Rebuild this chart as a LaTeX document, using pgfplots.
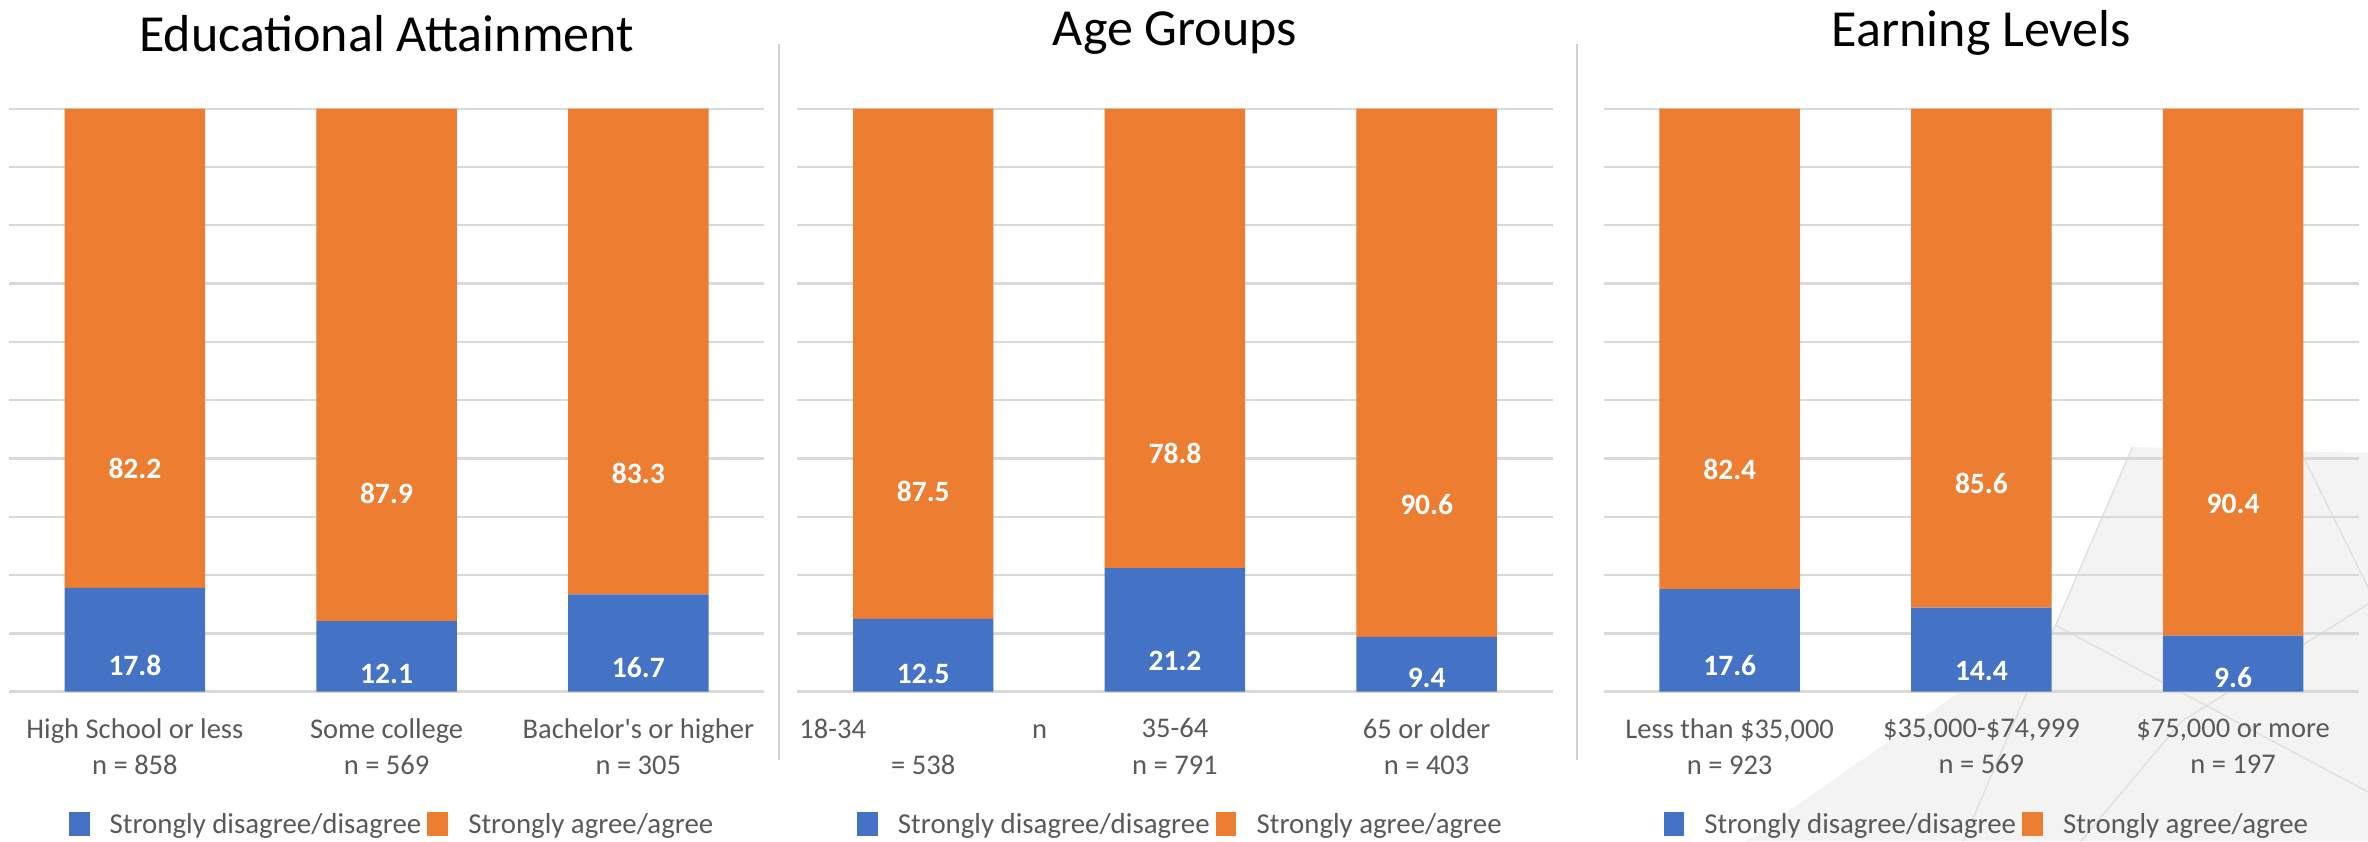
\documentclass[border=0pt]{standalone}
\usepackage{fontspec}
\setmainfont{Carlito}[Ligatures=TeXOff]
\usepackage{pgfplots}
\pgfplotsset{compat=1.18}
\usepackage{pgfplotstable}

\definecolor{cblue}{HTML}{4472C4}
\definecolor{corange}{HTML}{ED7D31}
\definecolor{cgrid}{HTML}{D9D9D9}
\definecolor{ctext}{HTML}{595959}
\definecolor{csep}{HTML}{D0D0D0}
\definecolor{cbg}{HTML}{F3F3F3}
\definecolor{cbgline}{HTML}{E0E0E0}

% segment values: disagree (blue), agree (orange)
\pgfplotstableread{
x dis agr
0 17.8 82.2
1 12.1 87.9
2 16.7 83.3
}\edu
\pgfplotstableread{
x dis agr
0 12.5 87.5
1 21.2 78.8
2 9.4 90.6
}\age
\pgfplotstableread{
x dis agr
0 17.6 82.4
1 14.4 85.6
2 9.6 90.4
}\earn

\pgfplotsset{
  panel/.style={
    scale only axis, width=225pt, height=173.7pt,
    anchor=north west,
    ybar stacked, bar width=41.85pt,
    xmin=-0.5, xmax=2.5, ymin=0, ymax=100,
    xtick={0,1,2}, ytick={0,10,...,100}, yticklabels={},
    ymajorgrids, major grid style={cgrid, line width=0.7pt},
    axis line style={draw=none}, major tick length=0pt,
    xticklabel style={align=center, text=ctext, font=\fontsize{8.5}{10.8}\selectfont},
    xticklabel shift=4.5pt,
    every axis title/.style={at={(0.5,1.1295)}, anchor=center, font=\fontsize{15.5}{18}\selectfont},
    legend style={at={(0.508,-0.2306)}, anchor=center, draw=none, fill=none,
      legend columns=2, font=\fontsize{8.6}{10}\selectfont, text=ctext,
      nodes={inner sep=1pt},
      /tikz/every even column/.append style={column sep=0.8pt},
      /tikz/every odd column/.append style={column sep=5pt}},
    legend image code/.code={\fill[##1] (0pt,-0.3em) rectangle (0.62em,0.42em);},
    nodes near coords={\pgfmathprintnumber[fixed,fixed zerofill,precision=1,assume math mode=true]{\pgfplotspointmeta}},
    every node near coord/.append style={text=white, font=\bfseries\fontsize{8.8}{10}\selectfont},
  },
  seg/.style 2 args={draw=none, fill=#1, point meta=explicit,
    visualization depends on={\thisrow{#2} \as \seg},
    every node near coord/.append style={anchor=center, yshift=-0.43425pt*\seg}},
}

\begin{document}
\begin{tikzpicture}
\path[use as bounding box] (0,0) rectangle (705.6pt,-250.65pt);

% faint faceted backdrop, lower right
\fill[cbg] (635.4pt,-133.2pt) -- (705.6pt,-135pt) -- (705.6pt,-250.65pt)
  -- (520pt,-250.65pt) -- (612.5pt,-186.3pt) -- cycle;
\draw[cbgline, line width=0.4pt] (635.4pt,-133.2pt) -- (612.5pt,-186.3pt) -- (705.6pt,-236pt);
\draw[cbgline, line width=0.4pt] (686pt,-135.5pt) -- (705.6pt,-175pt);
\draw[cbgline, line width=0.4pt] (705.6pt,-180pt) -- (650pt,-215pt) -- (620pt,-250.65pt);
\draw[cbgline, line width=0.4pt] (612.5pt,-186.3pt) -- (585pt,-250.65pt);

\draw[csep, line width=0.6pt] (232.2pt,-13.05pt) -- (232.2pt,-226.35pt);
\draw[csep, line width=0.6pt] (469.8pt,-13.05pt) -- (469.8pt,-226.35pt);

\begin{axis}[panel, at={(2.7pt,-32.4pt)}, title={Educational Attainment},
  xticklabels={{High School or less\\n = 858},{Some college\\n = 569},{Bachelor's or higher\\n = 305}}]
  \addplot[seg={cblue}{dis}] table[x=x, y=dis, meta=dis] {\edu};
  \addplot[seg={corange}{agr}] table[x=x, y=agr, meta=agr] {\edu};
  \legend{Strongly disagree/disagree, Strongly agree/agree}
\end{axis}

\begin{axis}[panel, at={(237.6pt,-32.4pt)}, title={Age Groups},
  xticklabels={{\makebox[73.8pt]{18-34\hfill n}\\= 538},{35-64\\n = 791},{65 or older\\n = 403}}]
  \addplot[seg={cblue}{dis}] table[x=x, y=dis, meta=dis] {\age};
  \addplot[seg={corange}{agr}] table[x=x, y=agr, meta=agr] {\age};
  \legend{Strongly disagree/disagree, Strongly agree/agree}
\end{axis}

\begin{axis}[panel, at={(477.9pt,-32.4pt)}, title={Earning Levels},
  xticklabels={{Less than \$35,000\\n = 923},{\$35,000-\$74,999\\n = 569},{\$75,000 or more\\n = 197}}]
  \addplot[seg={cblue}{dis}] table[x=x, y=dis, meta=dis] {\earn};
  \addplot[seg={corange}{agr}] table[x=x, y=agr, meta=agr] {\earn};
  \legend{Strongly disagree/disagree, Strongly agree/agree}
\end{axis}
\end{tikzpicture}
\end{document}
